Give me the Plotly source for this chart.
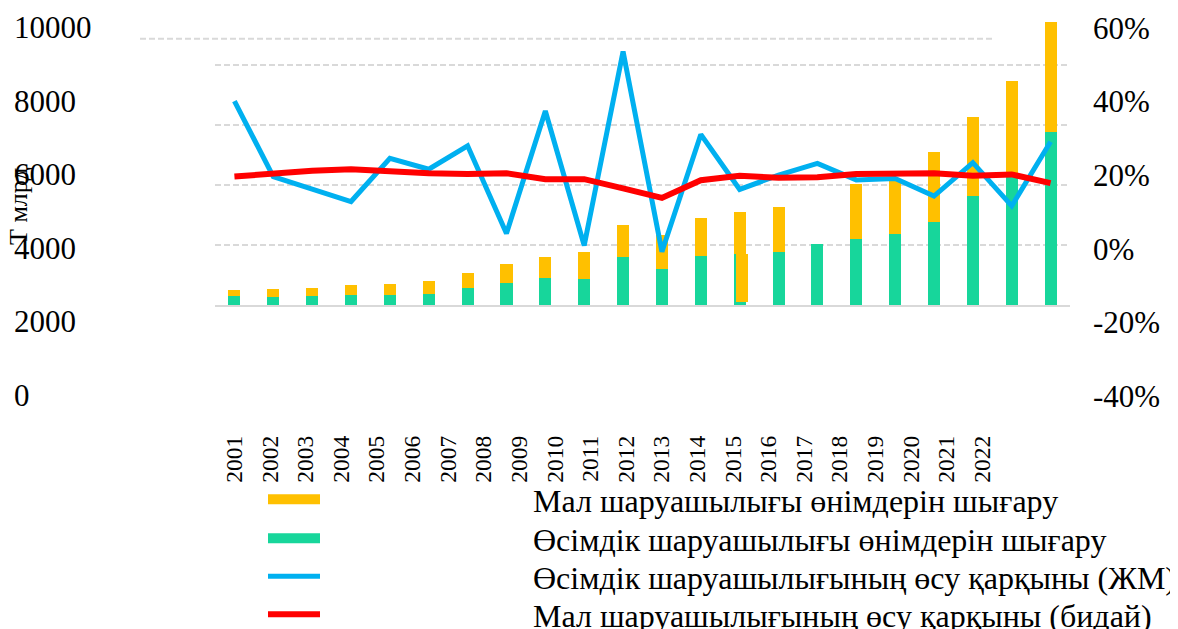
import plotly.graph_objects as go

# ---------------- data ----------------
years = [str(y) for y in range(2001, 2023)]

crop_output = [290, 277, 310, 333, 343, 367, 577, 733, 890, 857, 1610, 1210,
               1643, 1710, 1777, 2023, 2200, 2377, 2777, 3643, 4267, 5767]
livestock_output = [210, 246, 257, 334, 367, 433, 480, 634, 710, 920, 1057, 1123,
                    1257, 1390, 1480, None, 1833, 1790, 2323, 2634, 3200, 3666]
# stray livestock segment drawn over the 2014 column in the original
extra_base = [None, None, None, None, None, None, None, None, None, None, None, None,
              None, 100, None, None, None, None, None, None, None, None]
extra_height = [None, None, None, None, None, None, None, None, None, None, None, None,
                None, 1610, None, None, None, None, None, None, None, None]

crop_growth = [39.8, 19.2, 15.8, 12.4, 24.2, 21.2, 27.6, 3.7, 37.1, 0.4, 53.3, -1.3,
               30.7, 15.7, 19.6, 22.8, 18.3, 18.7, 13.9, 23.0, 11.2, 28.7]
livestock_growth = [19.2, 20.1, 20.8, 21.2, 20.5, 20.1, 19.9, 20.1, 18.5, 18.5, 16.0, 13.4,
                    18.2, 19.4, 18.9, 19.0, 19.9, 20.0, 20.1, 19.4, 19.8, 17.4]

left_tick_vals = [0, 2000, 4000, 6000, 8000, 10000]
left_tick_text = ["0", "2000", "4000", "6000", "8000", "10000"]
right_tick_vals = [-40, -20, 0, 20, 40, 60]
right_tick_text = ["-40%", "-20%", "0%", "20%", "40%", "60%"]

name_livestock = "Мал шаруашылығы өнімдерін шығару"
name_crop = "Өсімдік шаруашылығы өнімдерін шығару"
name_crop_growth = "Өсімдік шаруашылығының өсу қарқыны (ЖМ)"
name_livestock_growth = "Мал шаруашылығының өсу қарқыны (бидай)"
y_title = "Т млрд"

# ---------------- styling ----------------
W, H = 1178, 629
OFF = 8  # page body margin
YELLOW = "#FFC000"
GREEN = "#17D69B"
BLUE = "#00B0F0"
RED = "#FF0000"
GRID = "#D9D9D9"
FONT = "Liberation Serif"
PAD = "\u00a0" * 26


def fx(p):
    return (p - OFF) / W


def fy(p):
    return 1 - (p - OFF) / H


hidden = dict(showticklabels=False, ticks="", showgrid=False, zeroline=False, showline=False)

fig = go.Figure()

fig.add_trace(go.Bar(x=years, y=crop_output, marker=dict(color=GREEN, line=dict(width=0)),
                     name=name_crop, showlegend=False, xaxis="x", yaxis="y"))
fig.add_trace(go.Bar(x=years, y=livestock_output, marker=dict(color=YELLOW, line=dict(width=0)),
                     name=name_livestock, showlegend=False, xaxis="x", yaxis="y"))
fig.add_trace(go.Bar(x=years, y=extra_height, base=extra_base, offset=-0.09, width=0.31,
                     marker=dict(color=YELLOW, line=dict(width=0)),
                     name=name_livestock, showlegend=False, xaxis="x", yaxis="y"))

fig.add_trace(go.Scatter(x=years, y=crop_growth, mode="lines", name=PAD + name_crop_growth,
                         line=dict(color=BLUE, width=5), legend="legend3",
                         xaxis="x", yaxis="y2"))
fig.add_trace(go.Scatter(x=years, y=livestock_growth, mode="lines", name=PAD + name_livestock_growth,
                         line=dict(color=RED, width=6), legend="legend4",
                         xaxis="x", yaxis="y2"))

# legend swatches for the two bar series
fig.add_trace(go.Scatter(x=[None], y=[None], mode="lines", name=PAD + name_livestock,
                         line=dict(color=YELLOW, width=13), legend="legend",
                         xaxis="x", yaxis="y", hoverinfo="skip"))
fig.add_trace(go.Scatter(x=[None], y=[None], mode="lines", name=PAD + name_crop,
                         line=dict(color=GREEN, width=13), legend="legend2",
                         xaxis="x", yaxis="y", hoverinfo="skip"))

# empty carriers so the label axes get their own subplots
for xa, ya in (("x2", "y5"), ("x3", "y3"), ("x4", "y4")):
    fig.add_trace(go.Scatter(x=[], y=[], mode="lines", showlegend=False,
                             hoverinfo="skip", xaxis=xa, yaxis=ya))


def legend_box(center_y):
    return dict(x=fx(263), y=fy(center_y), xanchor="left", yanchor="middle",
                font=dict(family=FONT, size=32, color="#000000"),
                itemwidth=52, bgcolor="rgba(0,0,0,0)", borderwidth=0)


fig.update_layout(
    width=W, height=H,
    margin=dict(l=0, r=0, t=0, b=0, pad=0, autoexpand=False),
    paper_bgcolor="white",
    plot_bgcolor="rgba(0,0,0,0)",
    font=dict(family=FONT, color="#000000", size=30),
    barmode="stack",
    bargap=0.69,
    showlegend=True,
    legend=legend_box(499.5),
    legend2=legend_box(538.5),
    legend3=legend_box(576.5),
    legend4=legend_box(614.5),
    xaxis=dict(domain=[fx(215), fx(1070)], type="category", range=[-0.5, 21.5],
               showticklabels=False, ticks="", showgrid=False, zeroline=False,
               showline=True, linecolor=GRID, linewidth=2, anchor="y"),
    yaxis=dict(domain=[fy(305), fy(15)], range=[0, 9666.7],
               tickvals=[2000, 4000, 6000, 8000], showticklabels=False, ticks="",
               showgrid=True, gridcolor=GRID, gridwidth=2, griddash="6px,3px",
               zeroline=False, showline=False, anchor="x"),
    yaxis2=dict(overlaying="y", side="right", range=[-15.82, 63.27], anchor="x", **hidden),
    # year labels
    xaxis2=dict(anchor="y5", domain=[fx(216.6), fx(1000)], range=[-0.5, 21.5],
                tickmode="array", tickvals=list(range(len(years))), ticktext=years,
                tickangle=-90, side="bottom",
                tickfont=dict(family=FONT, size=23.5, color="#000000"),
                showgrid=False, zeroline=False, showline=False, ticks=""),
    yaxis5=dict(anchor="x2", domain=[fy(430), fy(429)], range=[0, 1], **hidden),
    # left value labels
    xaxis3=dict(anchor="y3", domain=[fx(8), fx(13)], range=[0, 1], **hidden),
    yaxis3=dict(anchor="x3", side="right", domain=[fy(395), fy(27.5)], range=[0, 10000],
                tickmode="array", tickvals=left_tick_vals, ticktext=left_tick_text,
                tickfont=dict(family=FONT, size=31, color="#000000"),
                showgrid=False, zeroline=False, showline=False, ticks=""),
    # right percentage labels
    xaxis4=dict(anchor="y4", domain=[fx(1088), fx(1092)], range=[0, 1], **hidden),
    yaxis4=dict(anchor="x4", side="right", domain=[fy(396), fy(28)], range=[-40, 60],
                tickmode="array", tickvals=right_tick_vals, ticktext=right_tick_text,
                tickfont=dict(family=FONT, size=31, color="#000000"),
                showgrid=False, zeroline=False, showline=False, ticks=""),
    shapes=[dict(type="line", xref="paper", yref="paper", x0=fx(140), x1=fx(995),
                 y0=fy(38.7), y1=fy(38.7), layer="below",
                 line=dict(color=GRID, width=2, dash="6px,3px"))],
    annotations=[dict(text=y_title, x=fx(18), y=fy(206), xref="paper", yref="paper",
                      showarrow=False, textangle=-90, xanchor="center", yanchor="middle",
                      font=dict(family=FONT, size=26, color="#000000"))],
)

fig.write_html("out.html")
